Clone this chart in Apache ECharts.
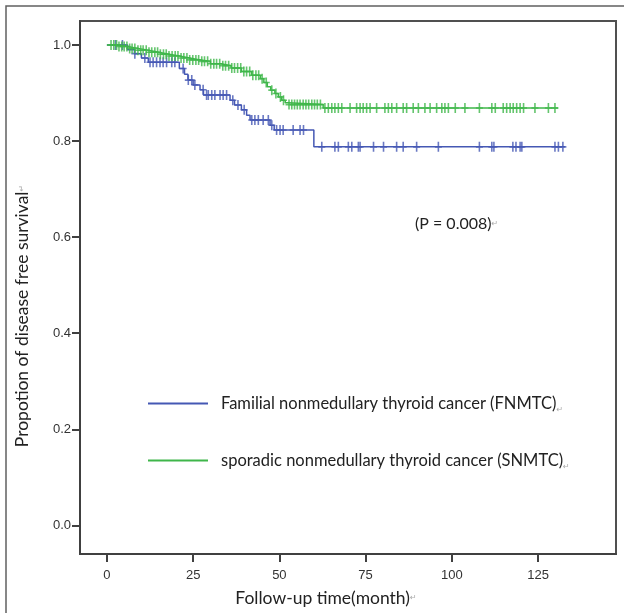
<!DOCTYPE html>
<html>
<head>
<meta charset="utf-8">
<script src="https://cdn.jsdelivr.net/npm/echarts@6/dist/echarts.min.js"></script>
<style>html,body{margin:0;padding:0;background:#fff;}#c{width:624px;height:613px;}</style>
</head>
<body>
<div id="c"></div>
<script>
// ---- data ----
const xTicks = [0, 25, 50, 75, 100, 125];
const yTicks = [0, 0.2, 0.4, 0.6, 0.8, 1.0];
const nameF = 'Familial nonmedullary thyroid cancer (FNMTC)';
const nameS = 'sporadic nonmedullary thyroid cancer (SNMTC)';
// Kaplan-Meier steps: [time (month), survival after event]
const fnmtcSteps = [[0,1.0],[6,0.99],[8,0.982],[10,0.973],[12,0.964],[21,0.951],[22.5,0.939],[23.5,0.927],[25,0.917],[27,0.907],[28,0.896],[35.7,0.885],[37,0.875],[39,0.865],[40.5,0.854],[41.5,0.844],[47.3,0.833],[48.5,0.823],[60,0.788],[132.8,0.788]];
const snmtcSteps = [[0,1.0],[3,0.997],[6,0.993],[9,0.989],[12,0.985],[15,0.981],[18,0.977],[21,0.973],[24,0.969],[27,0.966],[30,0.961],[33,0.957],[36,0.952],[39,0.945],[42,0.937],[44.5,0.930],[45.5,0.922],[46.5,0.913],[47.5,0.906],[48.7,0.899],[49.7,0.892],[50.7,0.885],[51.7,0.880],[52.6,0.876],[62.7,0.869],[130.8,0.869]];
// censored observation times
const fnmtcCensor = [2.5,4.5,8.1,11,12.5,13.4,14.4,15.4,16.3,17.3,18.8,19.7,22.1,23.6,24.6,25.5,27.9,28.9,29.4,30.4,31.3,32.8,33.7,34.7,36.5,38,39.8,42,42.9,43.9,45.3,46.8,47.8,49.2,50.2,51.1,54,56,57,62.3,66.1,67.1,70,71,72.9,73.4,77.3,80.2,84,85.9,89.8,96.1,108,111.6,112.2,117.7,118.6,119.8,120.3,129.9,130.9,132.2];
const snmtcCensor = [1.2,2,2.8,3.5,4.3,5,5.8,6.6,7.3,8.1,9,9.8,10.5,11.4,12.2,13,13.9,14.7,15.5,16.4,17.2,18,18.9,19.8,20.6,21.5,22.3,23.2,24,24.9,25.8,26.6,27.5,28.3,29.2,30.1,31,31.8,32.7,33.6,34.4,35.3,36.2,37,37.9,38.8,39.7,40.5,41.4,42.3,43.2,44,45,46.2,47.8,49,50.3,51.2,52.8,53.6,54.4,55.2,56,56.9,57.7,58.5,59.4,60.2,61,61.9,63.2,64.2,65.2,66.1,67.1,68.1,70.5,72.4,73.4,74.3,75.3,76.3,78.2,80.6,81.6,82.6,84,85.9,86.9,88.8,90.3,92.2,93.7,95.6,97.1,98,99,101,103.8,108,111.6,112.6,114.9,115.9,116.9,117.8,118.8,119.8,120.8,124.1,128,129.9];

const blue = '#4558b4';
const green = '#3fb64a';

function survAt(steps, t) {
  let s = steps[0][1];
  for (const p of steps) { if (p[0] <= t) s = p[1]; }
  return s;
}
const plus = 'path://M-0.8,-5H0.8V-0.8H3.5V0.8H0.8V5H-0.8V0.8H-3.5V-0.8H-0.8Z';
const titleFont = 'Lato, "Open Sans", sans-serif';
const markRich = {fontSize: 8, fill: '#aaa', color: '#aaa', fontFamily: 'DejaVu Sans'};

const chart = echarts.init(document.getElementById('c'), null, {renderer: 'canvas'});
chart.setOption({
  animation: false,
  backgroundColor: '#fff',
  grid: {left: 80, top: 21, right: 8, bottom: 59, show: true, borderColor: '#505050', borderWidth: 2, backgroundColor: 'transparent'},
  xAxis: {
    type: 'value', min: -7.8, max: 147.6,
    splitLine: {show: false},
    axisLine: {show: true, onZero: false, lineStyle: {color: '#404040', width: 2}},
    axisTick: {show: true, length: 8, customValues: xTicks, lineStyle: {color: '#404040', width: 2}},
    axisLabel: {customValues: xTicks, margin: 15, color: '#333', fontSize: 13, fontFamily: '"Liberation Sans", Arial, sans-serif'}
  },
  yAxis: {
    type: 'value', min: -0.0596, max: 1.05,
    splitLine: {show: false},
    axisLine: {show: true, onZero: false, lineStyle: {color: '#404040', width: 2}},
    axisTick: {show: true, length: 8, customValues: yTicks, lineStyle: {color: '#404040', width: 2}},
    axisLabel: {customValues: yTicks, margin: 9, color: '#333', fontSize: 13, fontFamily: '"Liberation Sans", Arial, sans-serif', formatter: v => v.toFixed(1)}
  },
  legend: {
    data: [nameF, nameS], orient: 'vertical', left: 143, top: 390,
    icon: 'rect', itemWidth: 60, itemHeight: 2, itemGap: 38, selectedMode: false,
    formatter: n => '{t|' + n + '}{m|↵}',
    textStyle: {
      rich: {
        t: {fontFamily: titleFont, fontSize: 16.5, color: '#222', padding: [0, 0, 0, 8], lineHeight: 21},
        m: {fontSize: 8, color: '#aaa', fontFamily: 'DejaVu Sans', verticalAlign: 'bottom', lineHeight: 21}
      }
    }
  },
  graphic: [
    {type: 'rect', shape: {x: 6, y: 6, width: 630, height: 630}, style: {fill: 'none', stroke: '#606060', lineWidth: 1.5}, silent: true, z: -10},
    {type: 'text', x: 415, y: 224, style: {text: '{t|(P = 0.008)}{m|↵}', rich: {t: {fontFamily: titleFont, fontSize: 16, fill: '#222'}, m: markRich}, verticalAlign: 'middle'}},
    {type: 'text', x: 326, y: 598, style: {text: '{t|Follow-up time(month)}{m|↵}', rich: {t: {fontFamily: titleFont, fontSize: 17.5, fill: '#222'}, m: markRich}, align: 'center', verticalAlign: 'middle'}},
    {type: 'text', x: 22, y: 316, rotation: Math.PI / 2, style: {text: '{t|Propotion of disease free survival}{m|↵}', rich: {t: {fontFamily: titleFont, fontSize: 17.5, fill: '#222'}, m: markRich}, align: 'center', verticalAlign: 'middle'}}
  ],
  series: [
    {name: nameF, type: 'line', step: 'end', data: fnmtcSteps, showSymbol: false, color: blue, lineStyle: {color: blue, width: 1.5}, z: 2},
    {name: nameF + ' censored', type: 'scatter', data: fnmtcCensor.map(t => [t, survAt(fnmtcSteps, t)]), symbol: plus, symbolSize: [7, 10], itemStyle: {color: blue}, z: 3},
    {name: nameS, type: 'line', step: 'end', data: snmtcSteps, showSymbol: false, color: green, lineStyle: {color: green, width: 1.5}, z: 4},
    {name: nameS + ' censored', type: 'scatter', data: snmtcCensor.map(t => [t, survAt(snmtcSteps, t)]), symbol: plus, symbolSize: [7, 10], itemStyle: {color: green}, z: 5}
  ]
});
</script>
</body>
</html>
